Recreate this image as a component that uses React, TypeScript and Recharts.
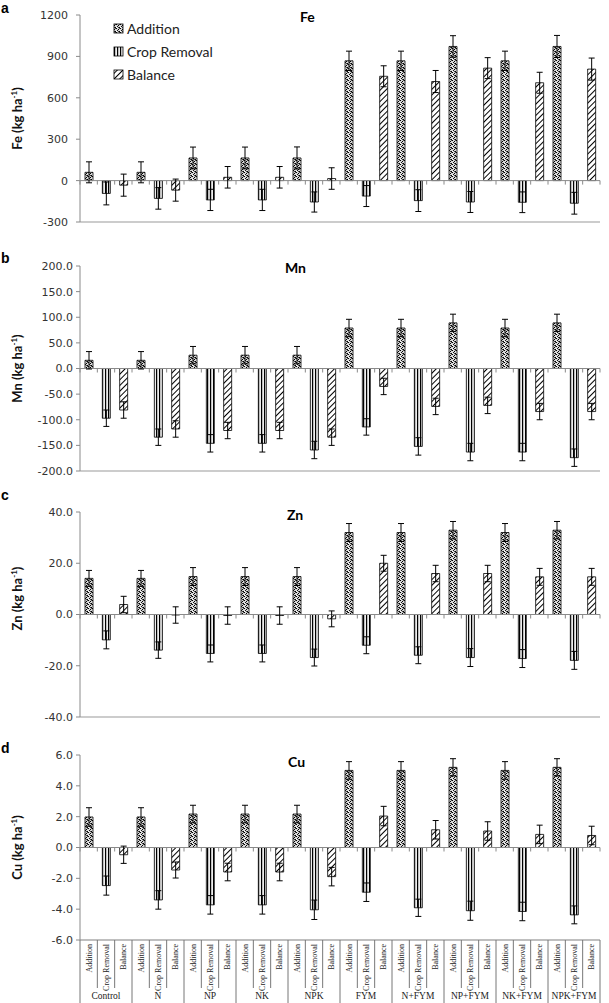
import React from 'react';
import { BarChart, Bar, XAxis, YAxis, Cell, ErrorBar, ReferenceLine } from 'recharts';

// treatments and the three bars shown for each
const groups = ['Control', 'N', 'NP', 'NK', 'NPK', 'FYM', 'N+FYM', 'NP+FYM', 'NK+FYM', 'NPK+FYM'];
const subLabels = ['Addition', 'Crop Removal', 'Balance'];

// Fe (kg/ha)
const feValues = [60, -93, -33, 60, -129, -69, 164, -140, 24, 164, -140, 24, 164, -155, 15,
  868, -112, 756, 868, -145, 718, 972, -155, 815, 868, -157, 709, 972, -164, 808];
const feErrors = [76, 83, 80, 76, 78, 80, 79, 77, 78, 79, 77, 78, 80, 73, 78,
  70, 76, 76, 70, 79, 80, 78, 76, 76, 70, 75, 76, 80, 79, 80];
const feTicks = [-300, 0, 300, 600, 900, 1200];

// Mn
const mnValues = [16, -97, -81, 16, -134, -118, 26, -146, -121, 26, -146, -121, 26, -159, -134,
  79, -114, -35, 79, -152, -74, 89, -163, -72, 79, -163, -84, 89, -174, -84];
const mnErrors = [17, 16, 16, 17, 16, 16, 17, 17, 16, 17, 17, 16, 17, 17, 16,
  17, 16, 16, 17, 17, 16, 17, 17, 16, 17, 17, 16, 17, 17, 16];
const mnTicks = [-200, -150, -100, -50, 0, 50, 100, 150, 200];

// Zn
const znValues = [14.1, -9.9, 3.9, 14.1, -13.9, -0.2, 14.8, -15.2, -0.4, 14.8, -15.2, -0.4, 14.8, -16.8, -1.7,
  32.0, -12.0, 20.0, 32.0, -15.9, 16.0, 32.9, -16.8, 16.0, 32.0, -17.2, 14.7, 32.9, -17.9, 14.7];
const znErrors = [3.1, 3.5, 3.2, 3.1, 3.2, 3.2, 3.5, 3.3, 3.4, 3.5, 3.3, 3.4, 3.5, 3.3, 3.1,
  3.5, 3.3, 3.1, 3.5, 3.3, 3.2, 3.4, 3.5, 3.2, 3.5, 3.5, 3.3, 3.4, 3.5, 3.3];
const znTicks = [-40, -20, 0, 20, 40];

// Cu
const cuValues = [1.98, -2.47, -0.47, 1.98, -3.4, -1.46, 2.17, -3.72, -1.59, 2.17, -3.72, -1.59, 2.17, -4.04, -1.89,
  5.0, -2.9, 2.04, 5.0, -3.91, 1.15, 5.2, -4.1, 1.07, 5.0, -4.15, 0.85, 5.2, -4.37, 0.78];
const cuErrors = [0.6, 0.62, 0.56, 0.6, 0.6, 0.52, 0.57, 0.6, 0.57, 0.57, 0.6, 0.57, 0.57, 0.63, 0.6,
  0.57, 0.6, 0.63, 0.57, 0.56, 0.6, 0.56, 0.62, 0.6, 0.57, 0.6, 0.6, 0.56, 0.58, 0.6];
const cuTicks = [-6, -4, -2, 0, 2, 4, 6];

const patternIds = ['patAdd', 'patCrop', 'patBal'];

const PAGE_W = 609;
const PLOT_LEFT = 80;
const PLOT_RIGHT = 600;
const N_CAT = groups.length * subLabels.length;
const BAND = (PLOT_RIGHT - PLOT_LEFT) / N_CAT;
const AXIS_GRAY = '#8a8a8a';
const TICK_FONT = { fontFamily: 'DejaVu Sans', fontSize: 11, fill: '#333' };

function makeRows(values: number[], errors: number[]) {
  return values.map((v, i) => ({
    key: `${groups[Math.floor(i / 3)]}-${subLabels[i % 3]}`,
    v,
    e: errors[i],
  }));
}

// zero line with Excel-like tick marks between categories
function ZeroLine(props: any) {
  const { x1, x2, y1 } = props;
  if (x1 == null) return null;
  const marks = [];
  for (let k = 0; k <= N_CAT; k++) {
    const x = x1 + ((x2 - x1) * k) / N_CAT;
    marks.push(<line key={k} x1={x} x2={x} y1={y1} y2={y1 + 4} stroke={AXIS_GRAY} />);
  }
  return (
    <g>
      <line x1={x1} x2={x2} y1={y1} y2={y1} stroke={AXIS_GRAY} strokeWidth={1} />
      {marks}
    </g>
  );
}

function CategoryTick(props: any) {
  const { x, y, payload } = props;
  const i = payload.index;
  const left = x - BAND / 2;
  const tx = x + 3;
  const ty = y + 4;
  return (
    <g>
      <line x1={left} x2={left} y1={y} y2={y + (i % 3 === 0 ? 63 : 48)} stroke="#777" />
      {i === N_CAT - 1 && (
        <line x1={x + BAND / 2} x2={x + BAND / 2} y1={y} y2={y + 63} stroke="#777" />
      )}
      <text
        x={tx}
        y={ty}
        transform={`rotate(-90 ${tx} ${ty})`}
        textAnchor="end"
        fontFamily="Liberation Serif"
        fontSize={8}
        fill="#222"
      >
        {subLabels[i % 3]}
      </text>
      {i % 3 === 1 && (
        <text x={x} y={y + 59} textAnchor="middle" fontFamily="Liberation Serif" fontSize={9.5} fill="#222">
          {groups[Math.floor(i / 3)]}
        </text>
      )}
    </g>
  );
}

function YLabel({ name, cy }: { name: string; cy: number }) {
  const x = 22;
  return (
    <text
      x={x}
      y={cy}
      transform={`rotate(-90 ${x} ${cy})`}
      textAnchor="middle"
      fontFamily="Lato"
      fontWeight={700}
      fontSize={13}
      fill="#111"
    >
      <tspan>{name} (kg ha</tspan>
      <tspan dy={-5} fontSize={8}>-1</tspan>
      <tspan dy={5}>)</tspan>
    </text>
  );
}

interface PanelProps {
  values: number[];
  errors: number[];
  ticks: number[];
  decimals: number;
  name: string;
  top: number;
  height: number;
  marginTop: number;
  marginBottom: number;
  labelShift?: number;
  tickGap?: number;
  showCategories?: boolean;
}

function Panel({ values, errors, ticks, decimals, name, top, height, marginTop, marginBottom, labelShift = 0, tickGap = 3, showCategories = false }: PanelProps) {
  const rows = makeRows(values, errors);
  const xHeight = showCategories ? 60 : 0;
  const plotH = height - marginTop - marginBottom - xHeight;
  const cy = marginTop + plotH / 2 + labelShift;
  const lo = ticks[0];
  const hi = ticks[ticks.length - 1];
  return (
    <div style={{ position: 'absolute', left: 0, top }}>
      <BarChart
        width={PAGE_W}
        height={height}
        data={rows}
        margin={{ top: marginTop, right: PAGE_W - PLOT_RIGHT, bottom: marginBottom, left: 0 }}
      >
        <XAxis
          dataKey="key"
          hide={!showCategories}
          height={xHeight}
          interval={0}
          tickLine={false}
          tickSize={0}
          tickMargin={0}
          axisLine={{ stroke: '#aaa', strokeWidth: 1.5 }}
          tick={<CategoryTick />}
        />
        <YAxis
          width={PLOT_LEFT}
          domain={[lo, hi]}
          ticks={ticks}
          interval={0}
          tickSize={4}
          tickMargin={tickGap}
          axisLine={{ stroke: AXIS_GRAY }}
          tickLine={{ stroke: AXIS_GRAY }}
          tick={TICK_FONT}
          tickFormatter={(v: number) => v.toFixed(decimals)}
          label={<YLabel name={name} cy={cy} />}
        />
        {!showCategories && <ReferenceLine y={lo} stroke="#bbb" strokeWidth={1.5} />}
        <ReferenceLine y={0} shape={ZeroLine} />
        <Bar dataKey="v" barSize={8} stroke="#000" strokeWidth={0.8} isAnimationActive={false}>
          {rows.map((r, i) => (
            <Cell key={r.key} fill={`url(#${patternIds[i % 3]})`} />
          ))}
          <ErrorBar dataKey="e" width={3} stroke="#000" strokeWidth={1} isAnimationActive={false} />
        </Bar>
      </BarChart>
    </div>
  );
}

function Patterns() {
  return (
    <svg width={0} height={0} style={{ position: 'absolute' }}>
      <defs>
        <pattern id="patAdd" width={4} height={4} patternUnits="userSpaceOnUse">
          <rect width={4} height={4} fill="#d8d8d8" />
          <rect x={0} y={0} width={1} height={1} fill="#000" />
          <rect x={2} y={1} width={1} height={1} fill="#000" />
          <rect x={1} y={2} width={1} height={1} fill="#111" />
          <rect x={3} y={3} width={1} height={1} fill="#000" />
          <rect x={3} y={0} width={1} height={1} fill="#555" />
          <rect x={0} y={3} width={1} height={1} fill="#fff" />
          <rect x={2} y={3} width={1} height={1} fill="#444" />
        </pattern>
        <pattern id="patCrop" width={3} height={4} patternUnits="userSpaceOnUse">
          <rect width={3} height={4} fill="#eee" />
          <rect x={0} y={0} width={1.2} height={4} fill="#000" />
        </pattern>
        <pattern id="patBal" width={4} height={4} patternUnits="userSpaceOnUse" patternTransform="rotate(45)">
          <rect width={4} height={4} fill="#fff" />
          <rect x={0} y={0} width={1} height={4} fill="#000" />
        </pattern>
      </defs>
    </svg>
  );
}

function Overlay() {
  const letter = { fontFamily: 'Liberation Sans', fontWeight: 700, fontSize: 14, fill: '#000' } as const;
  const title = { fontFamily: 'Lato', fontWeight: 700, fontSize: 14, fill: '#000' } as const;
  const legendRows = [34, 57, 80];
  return (
    <svg width={PAGE_W} height={1003} style={{ position: 'absolute', left: 0, top: 0, pointerEvents: 'none' }}>
      <text x={1} y={13} {...letter}>a</text>
      <text x={1} y={263} {...letter}>b</text>
      <text x={1} y={500} {...letter}>c</text>
      <text x={1} y={753} {...letter}>d</text>
      <text x={300} y={22} {...title}>Fe</text>
      <text x={285} y={273} {...title}>Mn</text>
      <text x={287} y={520} {...title}>Zn</text>
      <text x={288} y={767} {...title}>Cu</text>
      {subLabels.map((s, i) => (
        <g key={s}>
          <rect x={114} y={legendRows[i] - 10} width={9} height={9} fill={`url(#${patternIds[i]})`} stroke="#000" strokeWidth={0.8} />
          <text x={127} y={legendRows[i]} fontFamily="Lato" fontSize={14} fill="#222">{s}</text>
        </g>
      ))}
    </svg>
  );
}

export default function App() {
  return (
    <div style={{ position: 'absolute', left: 0, top: 0, width: PAGE_W, height: 1003, background: '#fff' }}>
      <Patterns />
      <Panel values={feValues} errors={feErrors} ticks={feTicks} decimals={0} name="Fe"
        top={0} height={232} marginTop={15} marginBottom={10} tickGap={8} />
      <Panel values={mnValues} errors={mnErrors} ticks={mnTicks} decimals={1} name="Mn"
        top={250} height={231} marginTop={16} marginBottom={10} />
      <Panel values={znValues} errors={znErrors} ticks={znTicks} decimals={1} name="Zn"
        top={496} height={231} marginTop={16} marginBottom={10} labelShift={-16} />
      <Panel values={cuValues} errors={cuErrors} ticks={cuTicks} decimals={1} name="Cu"
        top={740} height={263} marginTop={15} marginBottom={3} showCategories />
      <Overlay />
    </div>
  );
}
